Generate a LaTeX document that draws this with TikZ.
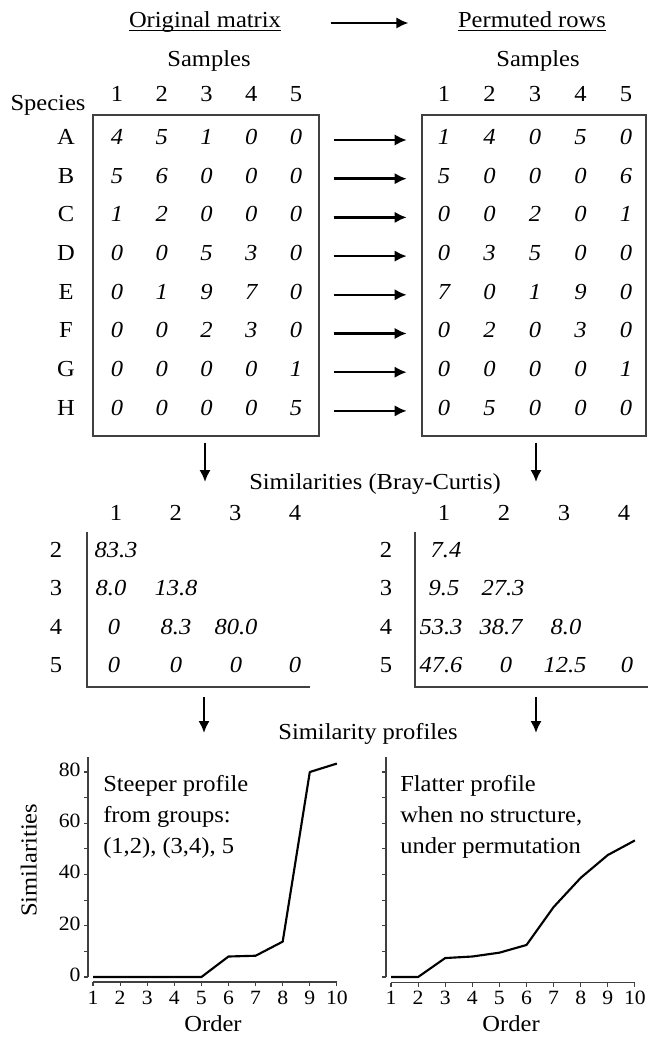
\documentclass[tikz,border=0pt]{standalone}
\usepackage{fontspec}
\setmainfont{Liberation Serif}[FakeStretch=1.07]
\usetikzlibrary{arrows.meta}
\begin{document}
\begin{tikzpicture}[x=0.75pt,y=-0.75pt,
  lab/.style={inner sep=0pt,text height=0.66em,text depth=0pt,font=\fontsize{17.2}{21}\selectfont},
  num/.style={lab,font=\fontsize{17.2}{21}\selectfont\itshape},
  ticklab/.style={inner sep=0pt,text height=0.66em,text depth=0pt,font=\fontsize{15.2}{18}\selectfont},
  frame/.style={draw=black!75,line width=0.9pt,inner sep=0pt},
  rule/.style={draw=black!75,line width=0.9pt},
  flow/.style={line width=1.8pt,-{Latex[length=9pt,width=8.5pt]}},
  axis/.style={draw=black!75,line width=0.8pt},
  profile/.style={line width=1.6pt,line join=round}]

\path[use as bounding box,fill=white] (0,0) rectangle (648,1037);

% ---------- headings ----------
\node[lab] (orig) at (205,23) {Original matrix};
\node[lab] (perm) at (532,23) {Permuted rows};
\draw[line width=0.7pt] ([yshift=-2.2pt]orig.south west) -- ([yshift=-2.2pt]orig.south east);
\draw[line width=0.7pt] ([yshift=-2.2pt]perm.south west) -- ([yshift=-2.2pt]perm.south east);
\draw[flow,shorten <=37pt,shorten >=37pt] (orig.east) -- (perm.west);

\node[lab] (smpL) at (209,62) {Samples};
\node[lab] (smpR) at (538,62) {Samples};
\node[lab] (spc) at (48,106) {Species};

\foreach \c in {1,...,5} {
  \node[lab] (hL\c) at ({117+44.75*(\c-1)},97) {\c};
  \node[lab] (hR\c) at ({444+45.5*(\c-1)},97) {\c};
}

% ---------- abundance matrices ----------
\node[frame,minimum width=169.5pt,minimum height=240.75pt] (boxL) at (206,275.5) {};
\node[frame,minimum width=168pt,minimum height=240.75pt] (boxR) at (534,275.5) {};

\foreach \r/\a/\b [count=\i from 0] in {
    A/{4,5,1,0,0}/{1,4,0,5,0},
    B/{5,6,0,0,0}/{5,0,0,0,6},
    C/{1,2,0,0,0}/{0,0,2,0,1},
    D/{0,0,5,3,0}/{0,3,5,0,0},
    E/{0,1,9,7,0}/{7,0,1,9,0},
    F/{0,0,2,3,0}/{0,2,0,3,0},
    G/{0,0,0,0,1}/{0,0,0,0,1},
    H/{0,0,0,0,5}/{0,5,0,0,0}} {
  \node[lab] (row\r) at (66,{140+38.7*\i}) {\r};
  \foreach \v [count=\j] in \a
    \node[num] (mL\r\j) at ({117+44.75*(\j-1)},{140+38.7*\i}) {\v};
  \foreach \v [count=\j] in \b
    \node[num] (mR\r\j) at ({444+45.5*(\j-1)},{140+38.7*\i}) {\v};
  \draw[flow,shorten <=10.5pt,shorten >=11pt] (boxL.east |- row\r) -- (boxR.west |- row\r);
}

% ---------- similarity matrices ----------
\node[lab] (sim) at (375,485) {Similarities (Bray-Curtis)};
\coordinate (dL1) at (205,482);
\coordinate (dR1) at (536,482);
\draw[flow,shorten <=4.5pt] (boxL.south -| dL1) -- (dL1);
\draw[flow,shorten <=4.5pt] (boxR.south -| dR1) -- (dR1);

\foreach \c in {1,...,4} {
  \node[lab] (sL\c) at ({116+59.67*(\c-1)},516) {\c};
  \node[lab] (sR\c) at ({444+60*(\c-1)},516) {\c};
}
\foreach \r/\y in {2/553,3/591,4/630,5/668} {
  \node[lab] (tL\r) at (56,\y) {\r};
  \node[lab] (tR\r) at (386,\y) {\r};
}
\draw[rule] (87,532) -- (87,687) -- (310,687);
\draw[rule] (415,532) -- (415,687) -- (648,687);

% left table (original samples)
\node[num] (vL21) at (116,553) {83.3};
\node[num] (vL31) at (111,591) {8.0};
\node[num] (vL32) at (176,591) {13.8};
\node[num] (vL41) at (114,630) {0};
\node[num] (vL42) at (176,630) {8.3};
\node[num] (vL43) at (236,630) {80.0};
\node[num] (vL51) at (114,668) {0};
\node[num] (vL52) at (176,668) {0};
\node[num] (vL53) at (236,668) {0};
\node[num] (vL54) at (295,668) {0};
% right table (permuted samples)
\node[num] (vR21) at (446,553) {7.4};
\node[num] (vR31) at (444,591) {9.5};
\node[num] (vR32) at (503,591) {27.3};
\node[num] (vR41) at (441,630) {53.3};
\node[num] (vR42) at (501,630) {38.7};
\node[num] (vR43) at (566,630) {8.0};
\node[num] (vR51) at (441,668) {47.6};
\node[num] (vR52) at (506,668) {0};
\node[num] (vR53) at (565,668) {12.5};
\node[num] (vR54) at (627,668) {0};

% ---------- similarity profiles ----------
\node[lab] (prof) at (368,735) {Similarity profiles};
\coordinate (dL2) at (204,733);
\coordinate (dR2) at (536,733);
\draw[flow] (204,697) -- (dL2);
\draw[flow] (536,697) -- (dR2);

% left profile: origin at order 1, similarity 0
\begin{scope}[shift={(93,977)},x=20.325pt,y=1.921875pt]
  \draw[axis] (-0.1845,0) -- (-0.1845,85.9);
  \foreach \t in {0,10,...,80}
    \draw[axis] (-0.1845,\t) -- (-0.33,\t);
  \foreach \t in {0,20,...,80}
    \node[ticklab,anchor=east] (yl\t) at (-0.45,\t) {\t};
  \draw[axis] (0,-1.95) -- (9,-1.95);
  \foreach \k in {1,...,10} {
    \draw[axis] (\k-1,-1.95) -- (\k-1,-3.6);
    \node[ticklab] (xl\k) at (\k-1,-9.2) {\k};
  }
  \draw[profile] (0,0) -- (1,0) -- (2,0) -- (3,0) -- (4,0) -- (5,8.0) -- (6,8.3)
    -- (7,13.8) -- (8,80.0) -- (9,83.3);
  \node[lab,rotate=90] (ylabL) at (-2.24,45.6) {Similarities};
  \node[lab] (ordL) at (4.43,-19.5) {Order};
\end{scope}
\node[lab,anchor=west] (txL1) at (103,787) {Steeper profile};
\node[lab,anchor=west] (txL2) at (103,818) {from groups:};
\node[lab,anchor=west] (txL3) at (103,849) {(1,2), (3,4), 5};

% right profile
\begin{scope}[shift={(391,977)},x=20.325pt,y=1.921875pt]
  \draw[axis] (-0.1845,0) -- (-0.1845,85.9);
  \foreach \t in {0,10,...,80}
    \draw[axis] (-0.1845,\t) -- (-0.33,\t);
  \draw[axis] (0,-2.2) -- (9,-2.2);
  \foreach \k in {1,...,10} {
    \draw[axis] (\k-1,-2.2) -- (\k-1,-3.8);
    \node[ticklab] (xr\k) at (\k-1,-9.2) {\k};
  }
  \draw[profile] (0,0) -- (1,0) -- (2,7.4) -- (3,8.0) -- (4,9.5) -- (5,12.5) -- (6,27.3)
    -- (7,38.7) -- (8,47.6) -- (9,53.3);
  \node[lab] (ordR) at (4.43,-19.5) {Order};
\end{scope}
\node[lab,anchor=west] (txR1) at (400,787) {Flatter profile};
\node[lab,anchor=west] (txR2) at (400,818) {when no structure,};
\node[lab,anchor=west] (txR3) at (400,849) {under permutation};

\end{tikzpicture}
\end{document}
